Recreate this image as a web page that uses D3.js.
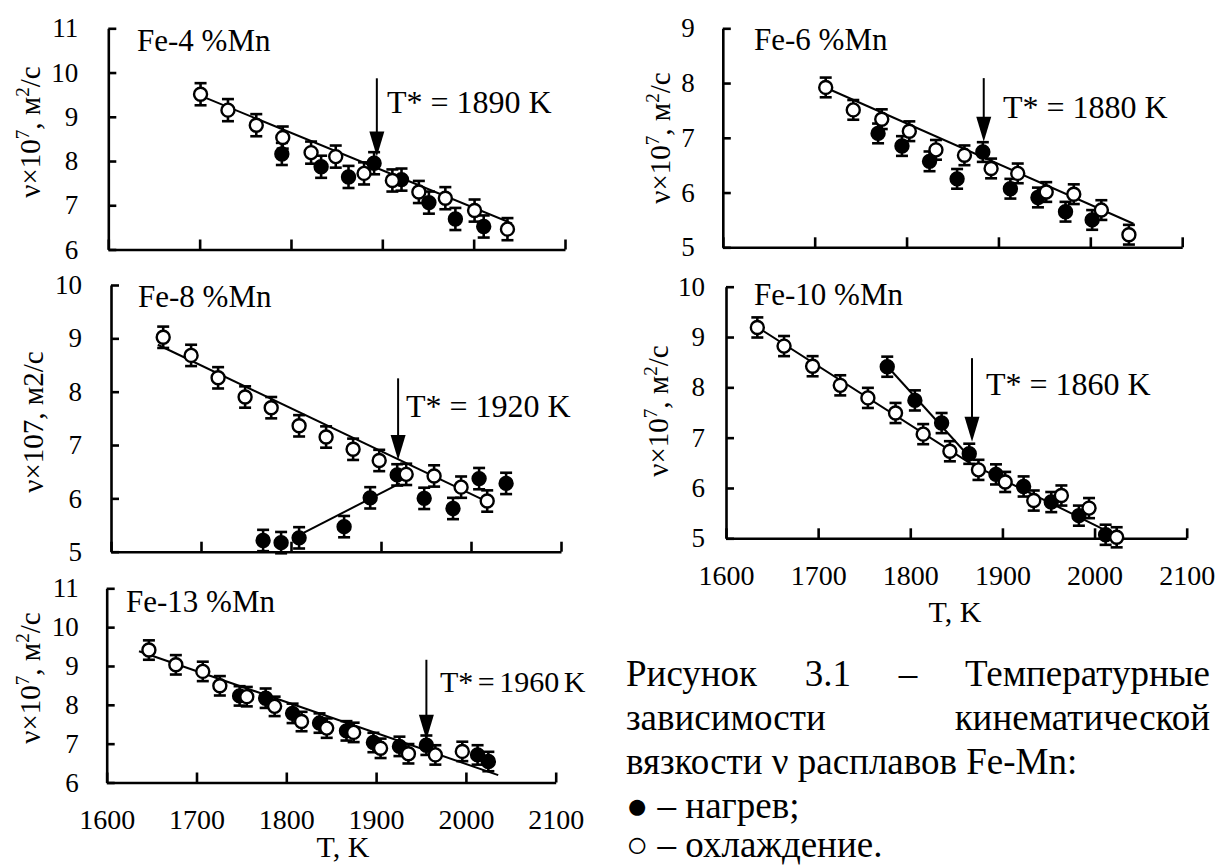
<!DOCTYPE html>
<html>
<head>
<meta charset="utf-8">
<script src="https://cdn.jsdelivr.net/npm/d3@7"></script>
<style>
  body { margin: 0; background: #fff; }
  svg, svg text { font-family: "Times New Roman", "Liberation Serif", Tinos, Times, "DejaVu Serif", "Noto Serif", serif; }
</style>
</head>
<body>
<svg id="chart" width="1221" height="865"></svg>
<script>
// ---- data: [T (K), nu x 10^7 (m2/s)] ----
var xTicks = [1600, 1700, 1800, 1900, 2000, 2100];

var fe4YTicks = [6, 7, 8, 9, 10, 11];
var fe4Heat = [[1790, 8.16], [1833, 7.87], [1863, 7.64], [1891, 7.95], [1921, 7.58], [1951, 7.06], [1980, 6.69], [2011, 6.52]];
var fe4Cool = [[1701, 9.51], [1731, 9.15], [1762, 8.81], [1791, 8.53], [1822, 8.19], [1849, 8.10], [1880, 7.72],
               [1911, 7.56], [1940, 7.30], [1969, 7.16], [2001, 6.88], [2037, 6.46]];
var fe4Fit = [[[1704, 9.45], [2042, 6.59]]];
var fe4Star = [1894, 9.87, 8.10];

var fe6YTicks = [5, 6, 7, 8, 9];
var fe6Heat = [[1769, 7.08], [1795, 6.85], [1825, 6.57], [1855, 6.25], [1883, 6.74], [1913, 6.07], [1943, 5.91], [1973, 5.65], [2002, 5.50]];
var fe6Cool = [[1712, 7.92], [1742, 7.51], [1773, 7.34], [1803, 7.12], [1832, 6.78], [1863, 6.68], [1892, 6.44],
               [1921, 6.35], [1952, 6.01], [1982, 5.97], [2012, 5.68], [2042, 5.23]];
var fe6Fit = [[[1714, 7.90], [2047, 5.43]]];
var fe6Star = [1884, 8.09, 6.93];

var fe8YTicks = [5, 6, 7, 8, 9, 10];
var fe8Heat = [[1769, 5.21], [1789, 5.17], [1809, 5.26], [1859, 5.47], [1888, 6.01], [1918, 6.44], [1948, 6.00],
               [1980, 5.81], [2009, 6.37], [2039, 6.28]];
var fe8Cool = [[1658, 9.02], [1689, 8.68], [1719, 8.26], [1749, 7.90], [1778, 7.70], [1809, 7.36], [1839, 7.15],
               [1869, 6.92], [1898, 6.71], [1928, 6.45], [1959, 6.42], [1989, 6.21], [2018, 5.95]];
var fe8Fit = [[[1652, 8.88], [2019, 5.93]], [[1809, 5.31], [1921, 6.28]]];
var fe8Star = [1919, 8.25, 6.72];

var fe10YTicks = [5, 6, 7, 8, 9, 10];
var fe10Heat = [[1775, 8.41], [1805, 7.74], [1834, 7.29], [1864, 6.68], [1893, 6.27], [1923, 6.03], [1953, 5.72],
                [1983, 5.45], [2012, 5.07]];
var fe10Cool = [[1634, 9.19], [1663, 8.82], [1694, 8.42], [1724, 8.04], [1754, 7.79], [1784, 7.49], [1814, 7.07],
                [1843, 6.73], [1874, 6.36], [1903, 6.12], [1934, 5.75], [1964, 5.85], [1994, 5.60], [2024, 5.02]];
var fe10Fit = [[[1632, 9.22], [1866, 6.48], [2024, 5.05]], [[1776, 8.40], [1866, 6.58]]];
var fe10Star = [1867, 8.58, 6.92];

var fe13YTicks = [6, 7, 8, 9, 10, 11];
var fe13Heat = [[1748, 8.23], [1777, 8.17], [1807, 7.78], [1837, 7.53], [1867, 7.33], [1897, 7.03], [1926, 6.93],
                [1956, 6.96], [2013, 6.71], [2025, 6.54]];
var fe13Cool = [[1647, 9.41], [1677, 9.03], [1707, 8.86], [1726, 8.49], [1756, 8.21], [1787, 7.96], [1817, 7.57],
                [1845, 7.40], [1875, 7.29], [1905, 6.88], [1936, 6.74], [1966, 6.71], [1996, 6.80]];
var fe13Fit = [[[1636, 9.38], [2036, 6.19]]];
var fe13Star = [1956, 9.16, 7.10];

var yLabelSup = [["ν×10", 0], ["7", 1], [", м", 0], ["2", 1], ["/с", 0]];
var yLabelPlain = [["ν×107, м2/с", 0]];

var captionLines = ["Рисунок 3.1 – Температурные", "зависимости кинематической", "вязкости ν расплавов Fe-Mn:",
                    "● – нагрев;", "○ – охлаждение."];

// ---- layout ----
var svg = d3.select("#chart");

var panels = [
    {title: "Fe-4 %Mn", star: "T* = 1890 K", yTicks: fe4YTicks, heat: fe4Heat, cool: fe4Cool, fits: fe4Fit, arrow: fe4Star,
     err: 0.25, box: [108.3, 565, 28.3, 249.5], titlePos: [137, 51], starPos: [387, 113], ylab: yLabelSup,
     ylabPos: [40, 132], tickPad: 30, xLabels: false},
    {title: "Fe-6 %Mn", star: "T* = 1880 K", yTicks: fe6YTicks, heat: fe6Heat, cool: fe6Cool, fits: fe6Fit, arrow: fe6Star,
     err: 0.18, box: [722.8, 1182.2, 28.3, 247.3], titlePos: [754, 50], starPos: [1003, 118], ylab: yLabelSup,
     ylabPos: [670, 138], tickPad: 28, xLabels: false},
    {title: "Fe-8 %Mn", star: "T* = 1920 K", yTicks: fe8YTicks, heat: fe8Heat, cool: fe8Cool, fits: fe8Fit, arrow: fe8Star,
     err: 0.2, box: [111, 561, 285, 551.7], titlePos: [138, 307], starPos: [406, 417], ylab: yLabelPlain,
     ylabPos: [43, 422], tickPad: 29, xLabels: false},
    {title: "Fe-10 %Mn", star: "T* = 1860 K", yTicks: fe10YTicks, heat: fe10Heat, cool: fe10Cool, fits: fe10Fit, arrow: fe10Star,
     err: 0.2, box: [726, 1186.7, 286.7, 538.3], titlePos: [754, 305], starPos: [986, 395], ylab: yLabelSup,
     ylabPos: [668, 411], tickPad: 21, xLabels: true, xTitle: "T, K", xTitlePos: [955, 622]},
    {title: "Fe-13 %Mn", star: "T* = 1960 K", yTicks: fe13YTicks, heat: fe13Heat, cool: fe13Cool, fits: fe13Fit, arrow: fe13Star,
     err: 0.25, box: [106.7, 555.7, 588.3, 782.5], titlePos: [126, 612], starPos: [440, 692], ylab: yLabelSup,
     ylabPos: [40, 678], tickPad: 28, xLabels: true, xTitle: "T,  K", xTitlePos: [343, 857], starTight: true}
];

panels.forEach(drawPanel);

function drawPanel(p) {
    var left = p.box[0], right = p.box[1], top = p.box[2], bottom = p.box[3];
    var x = d3.scaleLinear().domain(d3.extent(xTicks)).range([left, right]);
    var y = d3.scaleLinear().domain(d3.extent(p.yTicks)).range([bottom, top]);
    var g = svg.append("g");

    // axes, ticks pointing inside
    var xAxis = d3.axisBottom(x).tickValues(xTicks).tickSize(-10).tickSizeOuter(0).tickPadding(27)
        .tickFormat(p.xLabels ? d3.format("d") : "");
    var xg = g.append("g").attr("transform", "translate(0," + bottom + ")").call(xAxis);

    var yAxis = d3.axisLeft(y).tickValues(p.yTicks).tickSize(-8).tickSizeOuter(0).tickPadding(p.tickPad)
        .tickFormat(d3.format("d"));
    var yg = g.append("g").attr("transform", "translate(" + left + ",0)").call(yAxis);

    [xg, yg].forEach(function(a) {
        a.attr("font-family", null).attr("font-size", null);
        a.select(".domain").attr("stroke", "#000").attr("stroke-width", 2.6);
        a.selectAll(".tick line").attr("stroke", "#000").attr("stroke-width", 2.6);
        a.selectAll(".tick text").attr("fill", "#000");
    });
    xg.selectAll(".tick text").attr("font-size", 28);
    yg.selectAll(".tick text").attr("font-size", 27);

    // fitted lines
    var line = d3.line().x(function(d) { return x(d[0]); }).y(function(d) { return y(d[1]); });
    g.selectAll(".fit").data(p.fits).enter().append("path")
        .attr("class", "fit")
        .attr("d", line)
        .attr("fill", "none")
        .attr("stroke", "#000")
        .attr("stroke-width", 2);

    // heating (filled) first, cooling (open) on top
    [{data: p.heat, fill: "#000"}, {data: p.cool, fill: "#fff"}].forEach(function(s) {
        var sg = g.append("g");
        var eb = sg.selectAll(".eb").data(s.data).enter().append("g").attr("class", "eb")
            .attr("stroke", "#000").attr("stroke-width", 2.6);
        eb.append("line")
            .attr("x1", function(d) { return x(d[0]); }).attr("x2", function(d) { return x(d[0]); })
            .attr("y1", function(d) { return y(d[1] + p.err); }).attr("y2", function(d) { return y(d[1] - p.err); });
        [1, -1].forEach(function(sign) {
            eb.append("line")
                .attr("x1", function(d) { return x(d[0]) - 6; }).attr("x2", function(d) { return x(d[0]) + 6; })
                .attr("y1", function(d) { return y(d[1] + sign * p.err); })
                .attr("y2", function(d) { return y(d[1] + sign * p.err); });
        });
        sg.selectAll(".pt").data(s.data).enter().append("circle").attr("class", "pt")
            .attr("cx", function(d) { return x(d[0]); })
            .attr("cy", function(d) { return y(d[1]); })
            .attr("r", 6.5)
            .attr("fill", s.fill)
            .attr("stroke", "#000")
            .attr("stroke-width", 2.4);
    });

    // T* arrow
    var ax = x(p.arrow[0]), aTop = y(p.arrow[1]), aTip = y(p.arrow[2]);
    g.append("line").attr("x1", ax).attr("x2", ax).attr("y1", aTop).attr("y2", aTip - 22)
        .attr("stroke", "#000").attr("stroke-width", 2);
    g.append("path")
        .attr("d", "M" + (ax - 7.5) + "," + (aTip - 25) + "L" + (ax + 7.5) + "," + (aTip - 25) + "L" + ax + "," + aTip + "Z")
        .attr("fill", "#000");
    g.append("text").attr("x", p.starPos[0]).attr("y", p.starPos[1])
        .attr("font-size", p.starTight ? 30 : 32)
        .attr("word-spacing", p.starTight ? -3 : 0)
        .text(p.star);

    // panel title
    g.append("text").attr("x", p.titlePos[0]).attr("y", p.titlePos[1]).attr("font-size", 31).text(p.title);

    // y label, rotated
    var yl = g.append("text")
        .attr("transform", "translate(" + p.ylabPos[0] + "," + p.ylabPos[1] + ") rotate(-90)")
        .attr("text-anchor", "middle")
        .attr("font-size", 29);
    p.ylab.forEach(function(part, i) {
        var t = yl.append("tspan").text(part[0]);
        if (part[1]) t.attr("font-size", 19).attr("dy", -11);
        else if (i > 0 && p.ylab[i - 1][1]) t.attr("dy", 11);
    });

    // x title
    if (p.xTitle) {
        g.append("text").attr("x", p.xTitlePos[0]).attr("y", p.xTitlePos[1])
            .attr("text-anchor", "middle").attr("font-size", 30).text(p.xTitle);
    }
}

// ---- caption, first two lines justified ----
var capLeft = 626, capRight = 1210;
var capBase = [686, 730, 774, 818, 857];
var justify = [true, true, false, false, false];
var cap = svg.append("g").attr("font-size", 37);
captionLines.forEach(function(txt, i) {
    if (!justify[i]) {
        cap.append("text").attr("x", capLeft).attr("y", capBase[i]).text(txt);
        return;
    }
    var words = txt.split(" ");
    var nodes = words.map(function(w) {
        return cap.append("text").attr("y", capBase[i]).text(w);
    });
    var widths = nodes.map(function(n) { return n.node().getComputedTextLength(); });
    var gap = (capRight - capLeft - d3.sum(widths)) / (words.length - 1);
    var cx = capLeft;
    nodes.forEach(function(n, k) {
        n.attr("x", cx);
        cx += widths[k] + gap;
    });
});
</script>
</body>
</html>
